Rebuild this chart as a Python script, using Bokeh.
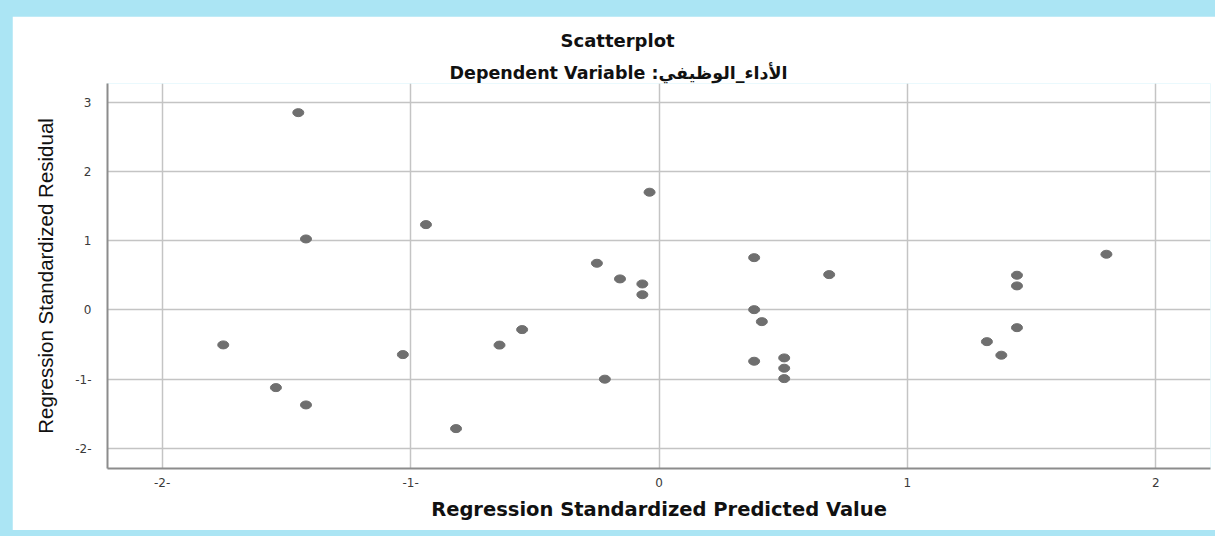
from bokeh.plotting import figure
from bokeh.models import FixedTicker, Range1d, Title
from bokeh.layouts import column
from bokeh.embed import file_html
from bokeh.resources import INLINE

# Data
predicted = [-1.452, -1.421, -0.938, -1.754, -1.031, -0.642, -1.542, -1.421, -0.817,
             -0.038, -0.250, -0.157, -0.067, -0.067, -0.551, -0.218,
             0.383, 0.685, 0.383, 0.414, 0.383, 0.504, 0.504, 0.504,
             1.801, 1.441, 1.441, 1.441, 1.320, 1.378]
residual = [2.849, 1.025, 1.232, -0.505, -0.645, -0.508, -1.122, -1.372, -1.714,
            1.700, 0.674, 0.448, 0.375, 0.220, -0.284, -1.000,
            0.755, 0.510, 0.004, -0.169, -0.741, -0.693, -0.842, -0.992,
            0.804, 0.501, 0.347, -0.256, -0.458, -0.654]

x_ticks = [-2, -1, 0, 1, 2]
x_tick_labels = {-2: "-2-", -1: "-1-", 0: "0", 1: "1", 2: "2"}
y_ticks = [-2, -1, 0, 1, 2, 3]
y_tick_labels = {-2: "-2-", -1: "-1-", 0: "0", 1: "1", 2: "2", 3: "3"}

title_text = "Scatterplot"
subtitle_text = "Dependent Variable :الأداء_الوظيفي"
x_label = "Regression Standardized Predicted Value"
y_label = "Regression Standardized Residual"

p = figure(width=1203, height=514, output_backend="svg", toolbar_location=None,
           x_range=Range1d(-2.22, 2.22), y_range=Range1d(-2.29, 3.27),
           min_border_left=95, min_border_right=5, min_border_top=67, min_border_bottom=62)
p.background_fill_color = "white"
p.border_fill_color = "white"
p.outline_line_color = None

p.add_layout(Title(text=subtitle_text, align="left", offset=342, standoff=2,
                   text_font="DejaVu Sans", text_font_size="17.5px",
                   text_font_style="bold", text_color="#111111"), "above")
p.add_layout(Title(text=title_text, align="left", offset=453, standoff=17,
                   text_font="DejaVu Sans", text_font_size="18px",
                   text_font_style="bold", text_color="#111111"), "above")

p.xaxis.ticker = FixedTicker(ticks=x_ticks)
p.xaxis.major_label_overrides = x_tick_labels
p.yaxis.ticker = FixedTicker(ticks=y_ticks)
p.yaxis.major_label_overrides = y_tick_labels

for ax in (p.xaxis[0], p.yaxis[0]):
    ax.axis_line_color = "#8c8c8c"
    ax.axis_line_width = 2
    ax.major_tick_line_color = None
    ax.minor_tick_line_color = None
    ax.major_label_text_font = "DejaVu Sans"
    ax.major_label_text_font_size = "12px"
    ax.major_label_text_color = "#3a3a3a"
    ax.axis_label_text_color = "#111111"

p.xaxis.axis_label = x_label
p.xaxis.axis_label_text_font = "DejaVu Sans"
p.xaxis.axis_label_text_font_style = "bold"
p.xaxis.axis_label_text_font_size = "19.5px"
p.xaxis.axis_label_standoff = 8
p.xaxis.major_label_standoff = 3

p.yaxis.axis_label = y_label
p.yaxis.axis_label_text_font = "Liberation Sans"
p.yaxis.axis_label_text_font_style = "normal"
p.yaxis.axis_label_text_font_size = "20.5px"
p.yaxis.axis_label_standoff = 15
p.yaxis.major_label_standoff = 10

p.xgrid.grid_line_color = "#c4c4c4"
p.xgrid.grid_line_width = 1.5
p.ygrid.grid_line_color = "#c4c4c4"
p.ygrid.grid_line_width = 1.5

p.ellipse(x=predicted, y=residual, width=11, height=8, width_units="screen",
          height_units="screen", fill_color="#6f6f6f", line_color="#6f6f6f")

layout = column(p, styles={"background-color": "#abe5f4",
                           "padding": "16px 0px 6px 12px"})

open("out.html", "w").write(file_html(layout, INLINE))
